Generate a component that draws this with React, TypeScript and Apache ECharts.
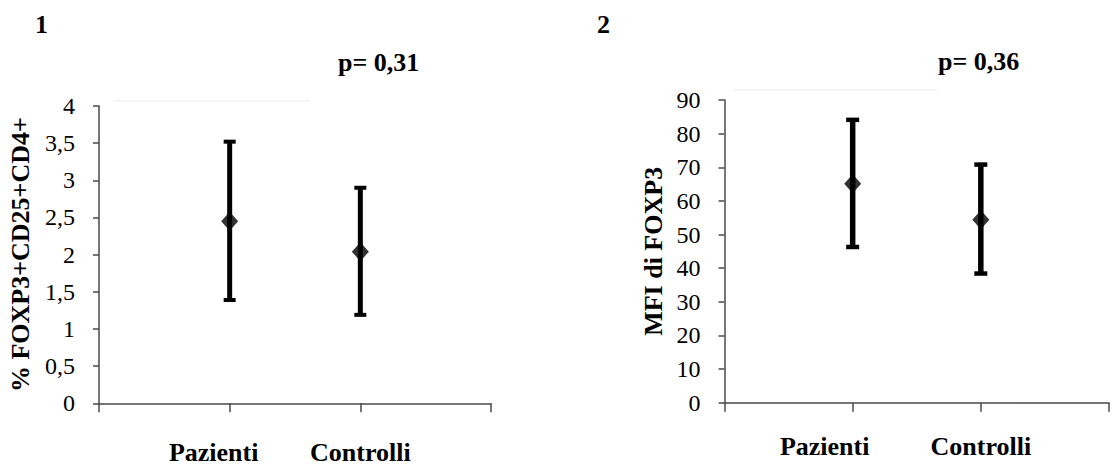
import React, { useEffect, useRef } from "react";
import * as echarts from "echarts";

const categories = ["", "Pazienti", "Controlli", ""];
const groupNames = ["Pazienti", "Controlli"];

// Panel 1: % FOXP3+CD25+CD4+
const mean1 = [2.45, 2.04];
const low1 = [1.39, 1.19];
const high1 = [3.52, 2.9];

// Panel 2: MFI di FOXP3
const mean2 = [65.1, 54.4];
const low2 = [46.3, 38.4];
const high2 = [84.1, 70.8];

const titles = ["1", "2"];
const pValues = ["p= 0,31", "p= 0,36"];
const yNames = ["% FOXP3+CD25+CD4+", "MFI di FOXP3"];

const FONT = "Liberation Serif";
const AXIS_COLOR = "#4a4a4a";

function errorBarSeries(idx: number, low: number[], high: number[], stem: number, capW: number, capH: number) {
  return {
    type: "custom",
    xAxisIndex: idx,
    yAxisIndex: idx,
    data: groupNames.map((g, i) => [categories.indexOf(g), low[i], high[i]]),
    encode: { x: 0, y: [1, 2] },
    renderItem: (params: any, api: any) => {
      const x = api.value(0);
      const pLo = api.coord([x, api.value(1)]);
      const pHi = api.coord([x, api.value(2)]);
      return {
        type: "group",
        children: [
          {
            type: "line",
            shape: { x1: pLo[0], y1: pLo[1], x2: pHi[0], y2: pHi[1] },
            style: { stroke: "#000", lineWidth: stem },
          },
          {
            type: "rect",
            shape: { x: pHi[0] - capW / 2, y: pHi[1] - capH / 2, width: capW, height: capH },
            style: { fill: "#000" },
          },
          {
            type: "rect",
            shape: { x: pLo[0] - capW / 2, y: pLo[1] - capH / 2, width: capW, height: capH },
            style: { fill: "#000" },
          },
        ],
      };
    },
    z: 2,
  };
}

function meanSeries(idx: number, mean: number[]) {
  return {
    type: "scatter",
    xAxisIndex: idx,
    yAxisIndex: idx,
    symbol: "diamond",
    symbolSize: [17, 19],
    itemStyle: { color: "#000" },
    data: groupNames.map((g, i) => [g, mean[i]]),
    z: 3,
  };
}

function xAxis(idx: number, shift: number, margin: number) {
  return {
    type: "category",
    gridIndex: idx,
    data: categories,
    boundaryGap: false,
    axisLine: { lineStyle: { color: AXIS_COLOR, width: 1.5 } },
    axisTick: { show: true, interval: 0, length: 9, lineStyle: { color: AXIS_COLOR, width: 1.5 } },
    axisLabel: {
      interval: 0,
      margin,
      formatter: (v: string) => (v === "Pazienti" ? "{p|" + v + "}" : v === "" ? "" : "{c|" + v + "}"),
      rich: {
        p: { fontFamily: FONT, fontSize: 26, fontWeight: "bold", color: "#000", padding: [0, shift, 0, 0] },
        c: { fontFamily: FONT, fontSize: 26, fontWeight: "bold", color: "#000" },
      },
    },
    splitLine: { show: false },
  };
}

function yAxis(idx: number, max: number, interval: number, name: string, nameGap: number, fontSize: number, margin: number) {
  return {
    type: "value",
    gridIndex: idx,
    min: 0,
    max,
    interval,
    name,
    nameLocation: "middle",
    nameRotate: 90,
    nameGap,
    nameTextStyle: { fontFamily: FONT, fontSize: 26, fontWeight: "bold", color: "#000" },
    axisLine: { show: true, lineStyle: { color: AXIS_COLOR, width: 1.5 } },
    axisTick: { show: true, length: 6, lineStyle: { color: AXIS_COLOR, width: 1.5 } },
    axisLabel: {
      margin,
      fontFamily: FONT,
      fontSize,
      color: "#000",
      formatter: (v: number) => String(v).replace(".", ","),
    },
    splitLine: { show: false },
  };
}

export default function App() {
  const ref = useRef<HTMLDivElement>(null);
  useEffect(() => {
    if (!ref.current) return;
    const chart = echarts.init(ref.current, null, { renderer: "svg" });
    const titleStyle = { fontFamily: FONT, fontSize: 26, fontWeight: "bold", color: "#000" };
    chart.setOption({
      animation: false,
      backgroundColor: "#fff",
      textStyle: { fontFamily: FONT },
      title: [
        { text: titles[0], left: 35, top: 11, padding: 0, textStyle: titleStyle },
        { text: pValues[0], left: 338, top: 49, padding: 0, textStyle: titleStyle },
        { text: titles[1], left: 597, top: 11, padding: 0, textStyle: titleStyle },
        { text: pValues[1], left: 938, top: 48, padding: 0, textStyle: titleStyle },
      ],
      grid: [
        { left: 99, top: 106, width: 392, height: 297.3 },
        { left: 724.5, top: 100, width: 392, height: 302.7 },
      ],
      xAxis: [xAxis(0, 32, 36), xAxis(1, 56, 31)],
      yAxis: [
        yAxis(0, 4, 0.5, yNames[0], 66, 24, 24),
        yAxis(1, 90, 10, yNames[1], 58, 24, 24),
      ],
      graphic: [
        { type: "line", shape: { x1: 113, y1: 101, x2: 310, y2: 101 }, style: { stroke: "#f0f0f0", lineWidth: 1.5 } },
        { type: "line", shape: { x1: 733, y1: 90, x2: 937, y2: 90 }, style: { stroke: "#f0f0f0", lineWidth: 1.5 } },
      ],
      series: [
        errorBarSeries(0, low1, high1, 5, 12, 4),
        meanSeries(0, mean1),
        errorBarSeries(1, low2, high2, 5.5, 13, 4.5),
        meanSeries(1, mean2),
      ],
    });
    return () => chart.dispose();
  }, []);
  return (
    <div
      ref={ref}
      style={{ position: "absolute", left: 0, top: 0, width: 1112, height: 466, overflow: "hidden" }}
    />
  );
}
